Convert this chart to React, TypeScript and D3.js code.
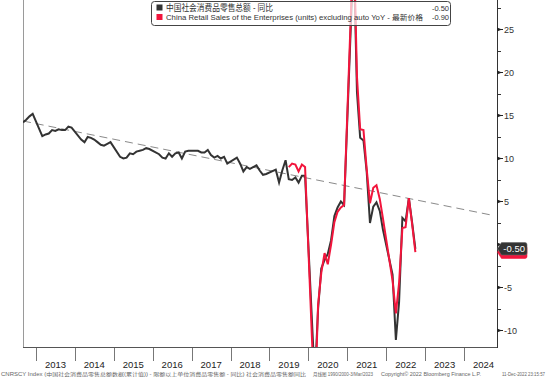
import React from "react";
import * as d3 from "d3";

const W = 550;
const H = 377;
const plot = { left: 23, right: 497, top: 0, bottom: 347 };

// 中国社会消费品零售总额 - 同比 (Jan/Feb not shown)
const retailMonths = [
  "2012-09", "2012-10", "2012-11", "2012-12",
  "2013-03", "2013-04", "2013-05", "2013-06", "2013-07", "2013-08", "2013-09", "2013-10", "2013-11", "2013-12",
  "2014-03", "2014-04", "2014-05", "2014-06", "2014-07", "2014-08", "2014-09", "2014-10", "2014-11", "2014-12",
  "2015-03", "2015-04", "2015-05", "2015-06", "2015-07", "2015-08", "2015-09", "2015-10", "2015-11", "2015-12",
  "2016-03", "2016-04", "2016-05", "2016-06", "2016-07", "2016-08", "2016-09", "2016-10", "2016-11", "2016-12",
  "2017-03", "2017-04", "2017-05", "2017-06", "2017-07", "2017-08", "2017-09", "2017-10", "2017-11", "2017-12",
  "2018-03", "2018-04", "2018-05", "2018-06", "2018-07", "2018-08", "2018-09", "2018-10", "2018-11", "2018-12",
  "2019-03", "2019-04", "2019-05", "2019-06", "2019-07", "2019-08", "2019-09", "2019-10", "2019-11", "2019-12",
  "2020-03", "2020-04", "2020-05", "2020-06", "2020-07", "2020-08", "2020-09", "2020-10", "2020-11", "2020-12",
  "2021-03", "2021-04", "2021-05", "2021-06", "2021-07", "2021-08", "2021-09", "2021-10", "2021-11", "2021-12",
  "2022-03", "2022-04", "2022-05", "2022-06", "2022-07", "2022-08", "2022-09", "2022-10",
];
const retailYoY = [
  14.2, 14.5, 14.9, 15.2,
  12.6, 12.8, 12.9, 13.3, 13.2, 13.4, 13.3, 13.3, 13.7, 13.6,
  12.2, 11.9, 12.5, 12.4, 12.2, 11.9, 11.6, 11.5, 11.7, 11.9,
  10.2, 10.0, 10.1, 10.6, 10.5, 10.8, 10.9, 11.0, 11.2, 11.1,
  10.5, 10.1, 10.0, 10.6, 10.2, 10.6, 10.7, 10.0, 10.8, 10.9,
  10.9, 10.7, 10.7, 11.0, 10.4, 10.1, 10.3, 10.0, 10.2, 9.4,
  10.1, 9.4, 8.5, 9.0, 8.8, 9.0, 9.2, 8.6, 8.1, 8.2,
  8.7, 7.2, 8.6, 9.8, 7.6, 7.5, 7.8, 7.2, 8.0, 8.0,
  -15.8, -7.5, -2.8, -1.8, -1.1, 0.5, 3.3, 4.3, 5.0, 4.6,
  34.2, 17.7, 12.4, 12.1, 8.5, 2.5, 4.4, 4.9, 3.9, 1.7,
  -3.5, -11.1, -6.7, 3.1, 2.7, 5.4, 2.5, -0.5,
];

// China Retail Sales of the Enterprises (units) excluding auto YoY
const exAutoMonths = [
  "2019-07", "2019-08", "2019-09", "2019-10", "2019-11", "2019-12",
  "2020-03", "2020-04", "2020-05", "2020-06", "2020-07", "2020-08", "2020-09", "2020-10", "2020-11", "2020-12",
  "2021-03", "2021-04", "2021-05", "2021-06", "2021-07", "2021-08", "2021-09", "2021-10", "2021-11", "2021-12",
  "2022-03", "2022-04", "2022-05", "2022-06", "2022-07", "2022-08", "2022-09", "2022-10",
];
const exAutoYoY = [
  9.0, 9.4, 9.3, 8.5, 9.3, 9.0,
  -19.0, -7.0, -3.3, -1.0, -2.3, 0.0, 2.6, 3.8, 4.3, 4.6,
  36.0, 19.5, 13.4, 13.3, 8.8, 4.8, 6.6, 6.9, 5.3, 3.0,
  -4.2, -8.0, -4.5, 1.9, 2.0, 5.4, 2.3, -0.9,
];

const trendDates = ["2012-09-01", "2024-10-01"];
const trendValues = [14.36, 3.38];

const yearLabels = ["2013", "2014", "2015", "2016", "2017", "2018", "2019", "2020", "2021", "2022", "2023", "2024"];
const yMajorTicks = [-10, -5, 0, 5, 10, 15, 20, 25];
const yMinorTicks = [-7.5, -2.5, 2.5, 7.5, 12.5, 17.5, 22.5, 27.5];

const legendNames = [
  "中国社会消费品零售总额 - 同比",
  "China Retail Sales of the Enterprises (units) excluding auto YoY - 最新价格",
];
const legendValues = ["-0.50", "-0.90"];
const lastValues = [-0.5, -0.9];
const seriesColors = ["#333333", "#f2153c"];

const footerParts = [
  "CNRSCY Index (中国社会消费品零售总额数据(累计值)) - 限额以上单位消费品零售额 - 同比) 社会消费品零售额同比",
  "月线图 1990/2000-3/Mar/2023",
  "Copyright© 2022 Bloomberg Finance L.P.",
  "11-Dec-2022 23:15:57",
];

const FONT = "'Liberation Sans', Arial, 'Noto Sans CJK SC', sans-serif";

export default function App() {
  const parseM = d3.timeParse("%Y-%m");
  const parseD = d3.timeParse("%Y-%m-%d");
  const x = d3
    .scaleTime()
    .domain([new Date(2012, 8, 1), new Date(2024, 10, 5)])
    .range([plot.left, plot.right]);
  const y = d3.scaleLinear().domain([-11.92, 28.43]).range([plot.bottom, plot.top]);

  const line = d3
    .line<[Date, number]>()
    .x((d) => x(d[0]))
    .y((d) => y(d[1]));

  const retail: [Date, number][] = retailMonths.map((m, i) => [parseM(m) as Date, retailYoY[i]]);
  const exAuto: [Date, number][] = exAutoMonths.map((m, i) => [parseM(m) as Date, exAutoYoY[i]]);
  const trend: [Date, number][] = trendDates.map((d, i) => [parseD(d) as Date, trendValues[i]]);

  const badge = (v: number, color: string, key: string, label: string | null) => {
    const yc = y(v);
    const l = plot.right + 0.5;
    const r = 527;
    const t = yc - 6.2;
    const b = yc + 6.2;
    const p = `M${l},${yc} L${l + 4},${t} L${r - 2},${t} Q${r},${t} ${r},${t + 2} L${r},${b - 2} Q${r},${b} ${r - 2},${b} L${l + 4},${b} Z`;
    return (
      <g key={key}>
        <path d={p} fill={color} stroke={color === "#333333" ? "#666" : color} strokeWidth={0.6} />
        {label && (
          <text x={r - 2} y={yc} dy="0.35em" textAnchor="end" fontSize={9.5} fill="#fff" fontFamily={FONT}>
            {label}
          </text>
        )}
      </g>
    );
  };

  return (
    <svg
      width={W}
      height={H}
      style={{ position: "absolute", left: 0, top: 0, background: "#fff" }}
      fontFamily={FONT}
    >
      <defs>
        <clipPath id="plotClip">
          <rect x={plot.left} y={plot.top} width={plot.right - plot.left} height={plot.bottom - plot.top} />
        </clipPath>
      </defs>
      <rect x={0} y={0} width={W} height={H} fill="#fff" />

      {/* frame */}
      <line x1={plot.left + 0.5} x2={plot.left + 0.5} y1={0} y2={plot.bottom} stroke="#9a9a9a" strokeWidth={1} />
      <line x1={plot.left} x2={plot.right} y1={plot.bottom + 0.5} y2={plot.bottom + 0.5} stroke="#555" strokeWidth={1} />

      {/* series */}
      <g clipPath="url(#plotClip)">
        <path
          d={line(trend) || ""}
          fill="none"
          stroke="#8a8a8a"
          strokeWidth={1}
          strokeDasharray="8,5"
        />
        <path d={line(retail) || ""} fill="none" stroke={seriesColors[0]} strokeWidth={2} strokeLinejoin="miter" />
        <path d={line(exAuto) || ""} fill="none" stroke={seriesColors[1]} strokeWidth={2} strokeLinejoin="miter" />
      </g>

      {/* right axis */}
      <line x1={plot.right + 0.5} x2={plot.right + 0.5} y1={0} y2={plot.bottom + 1} stroke="#333" strokeWidth={1} />
      {yMinorTicks.map((t) => (
        <line
          key={"mn" + t}
          x1={plot.right}
          x2={plot.right + 4}
          y1={Math.round(y(t)) + 0.5}
          y2={Math.round(y(t)) + 0.5}
          stroke="#333"
          strokeWidth={1}
        />
      ))}
      {yMajorTicks.map((t) => {
        const yy = Math.round(y(t)) + 0.5;
        return (
          <g key={"mj" + t}>
            <path d={`M${plot.right},${yy - 2} L${plot.right + 5},${yy} L${plot.right},${yy + 2} Z`} fill="#222" />
            <line x1={plot.right} x2={plot.right + 6} y1={yy} y2={yy} stroke="#222" strokeWidth={1} />
            {t !== 0 && (
              <text x={plot.right + 7} y={yy} dy="0.35em" fontSize={9} fill="#333">
                {t}
              </text>
            )}
          </g>
        );
      })}

      {/* last value badges */}
      {badge(lastValues[1], seriesColors[1], "b1", null)}
      {badge(lastValues[0], "#333333", "b0", legendValues[0])}

      {/* x axis years */}
      {yearLabels.map((yl) => {
        const yr = +yl;
        const x0 = x(new Date(yr, 0, 1));
        const x1 = x(new Date(yr + 1, 0, 1));
        return (
          <g key={yl}>
            <line x1={Math.round(x0) + 0.5} x2={Math.round(x0) + 0.5} y1={plot.bottom + 1} y2={plot.bottom + 14} stroke="#777" strokeWidth={1} />
            <text x={(x0 + x1) / 2} y={367.5} textAnchor="middle" fontSize={9.5} fill="#222">
              {yl}
            </text>
          </g>
        );
      })}

      {/* legend */}
      <g>
        <rect x={151.5} y={1.5} width={299} height={24} rx={3} fill="#fff" fillOpacity={0.7} stroke="#444" strokeWidth={1} />
        {legendNames.map((n, i) => {
          const by = 10.5 + i * 9.5;
          return (
            <g key={n}>
              <rect x={156.5} y={by - 6} width={6} height={6} fill={seriesColors[i]} />
              <text
                x={166}
                y={by}
                fontSize={i === 0 ? 9 : 7}
                fill="#333"
                textLength={i === 0 ? 107 : 257}
                lengthAdjust="spacingAndGlyphs"
              >
                {n}
              </text>
              <text x={449} y={by} fontSize={7.5} fill="#333" textAnchor="end">
                {legendValues[i]}
              </text>
            </g>
          );
        })}
      </g>

      {/* footer */}
      <g fontSize={5} fill="#666">
        <text x={1} y={375.5} textLength={305} lengthAdjust="spacingAndGlyphs">{footerParts[0]}</text>
        <text x={313} y={375.5} textLength={60} lengthAdjust="spacingAndGlyphs">{footerParts[1]}</text>
        <text x={381} y={375.5} textLength={100} lengthAdjust="spacingAndGlyphs">{footerParts[2]}</text>
        <text x={502} y={375.5} textLength={43} lengthAdjust="spacingAndGlyphs">{footerParts[3]}</text>
      </g>
    </svg>
  );
}
